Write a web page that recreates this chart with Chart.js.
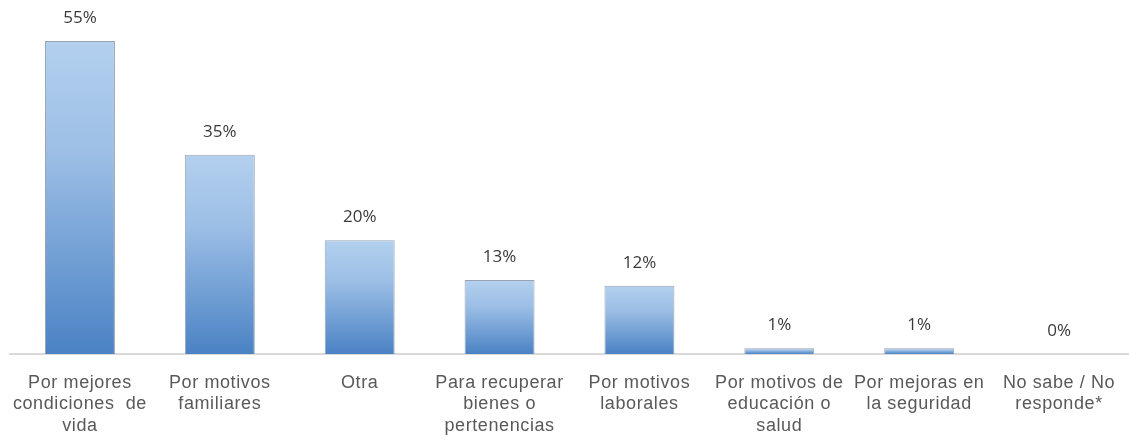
<!DOCTYPE html>
<html>
<head>
<meta charset="utf-8">
<script src="https://cdn.jsdelivr.net/npm/chart.js@4"></script>
<style>
  body { margin: 0; background: #fff; }
</style>
</head>
<body>
<canvas id="grafico" width="1129" height="442"></canvas>
<script>
const categorias = [
    ["Por mejores", "condiciones  de", "vida"],
    ["Por motivos", "familiares"],
    ["Otra"],
    ["Para recuperar", "bienes o", "pertenencias"],
    ["Por motivos", "laborales"],
    ["Por motivos de", "educación o", "salud"],
    ["Por mejoras en", "la seguridad"],
    ["No sabe / No", "responde*"]
];
const porcentajes = [55, 35, 20, 13, 12, 1, 1, 0];
const etiquetas = ["55%", "35%", "20%", "13%", "12%", "1%", "1%", "0%"];

// un poco de espacio entre letras para las categorias
const espaciadoPlugin = {
    id: "espaciado",
    beforeDraw(chart) {
        chart.ctx.letterSpacing = "0.6px";
    }
};

// etiquetas de valor encima de cada barra
const etiquetasPlugin = {
    id: "etiquetas",
    afterDatasetsDraw(chart) {
        const ctx = chart.ctx;
        const meta = chart.getDatasetMeta(0);
        ctx.save();
        ctx.letterSpacing = "0px";
        ctx.font = "17px 'Open Sans'";
        ctx.fillStyle = "#3a3a3a";
        ctx.textAlign = "center";
        ctx.textBaseline = "alphabetic";
        meta.data.forEach((bar, i) => {
            ctx.fillText(etiquetas[i], bar.x, bar.y - 18);
        });
        ctx.restore();
    }
};

function degradado(context) {
    const chart = context.chart;
    if (!chart.chartArea || context.dataIndex === undefined) return "#7fa8d8";
    const y = chart.scales.y;
    const top = y.getPixelForValue(porcentajes[context.dataIndex]);
    const base = y.getPixelForValue(0);
    if (base - top < 1) return "#7fa8d8";
    const g = chart.ctx.createLinearGradient(0, top, 0, base);
    g.addColorStop(0, "#b3d0ee");
    g.addColorStop(0.35, "#9dbfe6");
    g.addColorStop(1, "#4a82c4");
    return g;
}

new Chart(document.getElementById("grafico"), {
    type: "bar",
    data: {
        labels: categorias,
        datasets: [{
            data: porcentajes,
            backgroundColor: degradado,
            borderColor: "rgba(110,125,145,0.7)",
            borderWidth: 1,
            barPercentage: 0.5,
            categoryPercentage: 1
        }]
    },
    options: {
        responsive: false,
        animation: false,
        layout: { padding: { top: 41, left: 10, right: 0, bottom: 0 } },
        plugins: {
            legend: { display: false },
            tooltip: { enabled: false }
        },
        scales: {
            x: {
                grid: { display: false },
                border: { display: true, color: "#d9d9d9", width: 2 },
                ticks: {
                    color: "#595959",
                    font: { family: "'Liberation Sans'", size: 18, lineHeight: 1.2 },
                    padding: 10,
                    maxRotation: 0,
                    autoSkip: false
                },
                afterFit(scale) { scale.height = 88; }
            },
            y: {
                display: false,
                min: 0,
                max: 55
            }
        }
    },
    plugins: [espaciadoPlugin, etiquetasPlugin]
});
</script>
</body>
</html>
